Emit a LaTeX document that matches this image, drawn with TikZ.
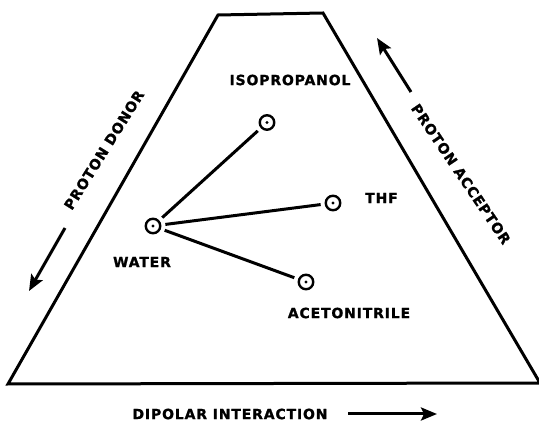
\documentclass[tikz,border=0pt]{standalone}
\usepackage{fontspec}
\setmainfont{DejaVu Sans}
\newfontfamily\lblfont[LetterSpace=6,FakeBold=1.2]{DejaVu Sans Bold}
\usetikzlibrary{arrows.meta}
\begin{document}
\begin{tikzpicture}[x=1pt,y=-1pt,
  lbl/.style={font=\fontsize{14}{14}\lblfont, inner sep=0pt},
  sol/.style={circle, draw, line width=2.4pt, minimum size=14.5pt, inner sep=0pt,
    path picture={\fill (path picture bounding box.center) circle (1.6pt);}},
  conn/.style={line width=3pt, shorten >=4pt, shorten <=4pt},
  arr/.style={line width=3pt, -{Stealth[length=16pt,width=13pt,inset=3pt]}},
  frame/.style={line width=3pt}]
\useasboundingbox (0,0) rectangle (539,422);
% trapezoid
\coordinate (tl) at (218,15);
\coordinate (tr) at (323,13);
\coordinate (br) at (540,383);
\coordinate (bl) at (8,384);
\draw[frame] (tl) -- (tr) -- (br) -- (bl) -- cycle;
% solvents
\node[sol] (water) at (153,226) {};
\node[sol] (iso) at (267,122.5) {};
\node[sol] (thf) at (333,203) {};
\node[sol] (acn) at (306,282) {};
\draw[conn] (water) -- (iso);
\draw[conn] (water) -- (thf);
\draw[conn] (water) -- (acn);
% labels
\node[lbl] (lwater) at (142,262) {WATER};
\node[lbl] (liso) at (290,80) {ISOPROPANOL};
\node[lbl] (lthf) at (381.5,198) {THF};
\node[lbl] (lacn) at (349,313) {ACETONITRILE};
\node[lbl] (ldip) at (230,414) {DIPOLAR INTERACTION};
\node[lbl, rotate=58] (ldon) at (104,150) {PROTON DONOR};
\node[lbl, rotate=-56] (lacc) at (461,174) {PROTON ACCEPTOR};
% arrows
\coordinate (donA) at (65,228);
\coordinate (donB) at (29,291);
\draw[arr] (donA) -- (donB);
\coordinate (accA) at (411,92);
\coordinate (accB) at (377,38);
\draw[arr] (accA) -- (accB);
\coordinate (dipA) at (348,414);
\coordinate (dipB) at (437,414);
\draw[arr] (dipA) -- (dipB);
\end{tikzpicture}
\end{document}
